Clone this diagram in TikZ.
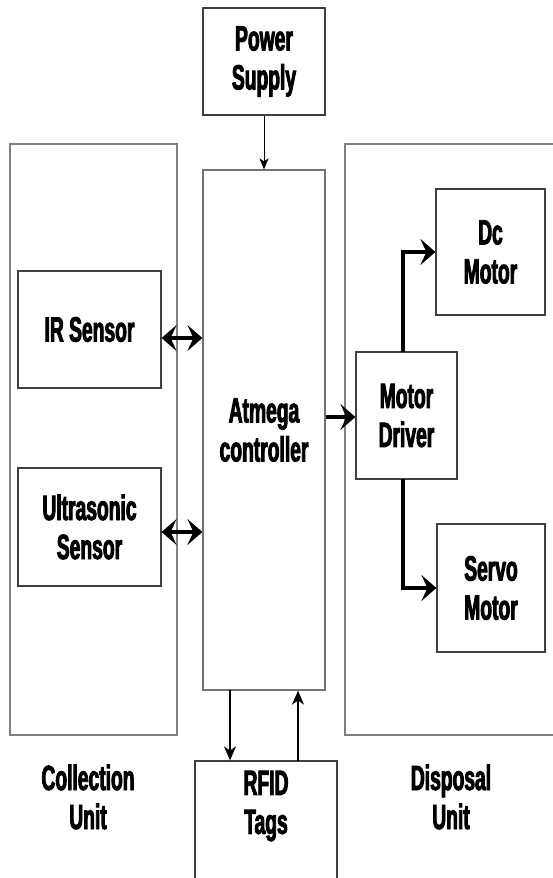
\documentclass[tikz,border=0pt]{standalone}
\usepackage{fontspec}
\newfontfamily\condfont[FakeStretch=0.55, FakeBold=2.5]{Liberation Sans Bold}
\usetikzlibrary{arrows.meta}
\begin{document}
\begin{tikzpicture}[x=1pt,y=-1pt,
  lbl/.style={font=\condfont\fontsize{35}{39}\selectfont, align=center, text=black},
  box/.style={draw=black!75, line width=1.2pt, inner sep=0pt, lbl},
  unitbox/.style={draw=black!50, line width=1.8pt, inner sep=0pt},
  thick arrow/.style={line width=3.4pt, -{Stealth[length=15pt,width=26pt,inset=6pt]}},
  bi arrow/.style={line width=3.4pt, {Stealth[length=15pt,width=26pt,inset=6pt]}-{Stealth[length=15pt,width=26pt,inset=6pt]}},
  thin arrow/.style={line width=1pt, -{Stealth[length=11pt,width=9pt,inset=3pt]}},
  mid arrow/.style={line width=1.6pt, -{Stealth[length=14pt,width=12pt,inset=4pt]}}]
\useasboundingbox (0,0) rectangle (552,878);
\fill[white] (0,0) rectangle (552,878);
% unit frames
\node[unitbox, minimum width=167, minimum height=591] (coll) at (93.5,439.5) {};
\node[unitbox, minimum width=215, minimum height=591] (disp) at (452.5,439.5) {};
% blocks
\node[box, minimum width=122, minimum height=107] (ps) at (264,61.5) {Power\\Supply};
\node[box, draw=black!55, minimum width=122, minimum height=520] (atm) at (264,430) {Atmega\\controller};
\node[box, minimum width=143, minimum height=117] (ir) at (89.5,329.5) {IR Sensor};
\node[box, minimum width=143, minimum height=118] (us) at (89.5,527) {Ultrasonic\\Sensor};
\node[box, minimum width=101, minimum height=127] (md) at (406.5,415.5) {Motor\\Driver};
\node[box, minimum width=109, minimum height=126] (dc) at (490.5,252) {Dc\\Motor};
\node[box, minimum width=108, minimum height=128] (sv) at (491,588) {Servo\\Motor};
\node[box, minimum width=142, minimum height=140] (rfid) at (266,831) {};
\node[lbl] (rfidt) at (266,806) {RFID\\Tags};
% unit labels
\node[lbl] (colll) at (88,797) {Collection\\Unit};
\node[lbl] (displ) at (451,797) {Disposal\\Unit};
% connectors
\draw[thin arrow] (ps.south) -- (atm.north);
\draw[bi arrow] (ir.east |- 0,338) -- (atm.west |- 0,338);
\draw[bi arrow] (us.east |- 0,532) -- (atm.west |- 0,532);
\draw[thick arrow] (atm.east |- 0,417) -- (md.west |- 0,417);
\draw[thick arrow] (403,352) coordinate (mdn) -- (mdn |- dc.west) -- (dc.west);
\draw[thick arrow] (403,479) coordinate (mds) -- (mds |- sv.west) -- (sv.west);
\draw[mid arrow] (230,690) coordinate (ad) -- (ad |- rfid.north);
\draw[mid arrow] (298,761) coordinate (ru) -- (ru |- atm.south);
\end{tikzpicture}
\end{document}
